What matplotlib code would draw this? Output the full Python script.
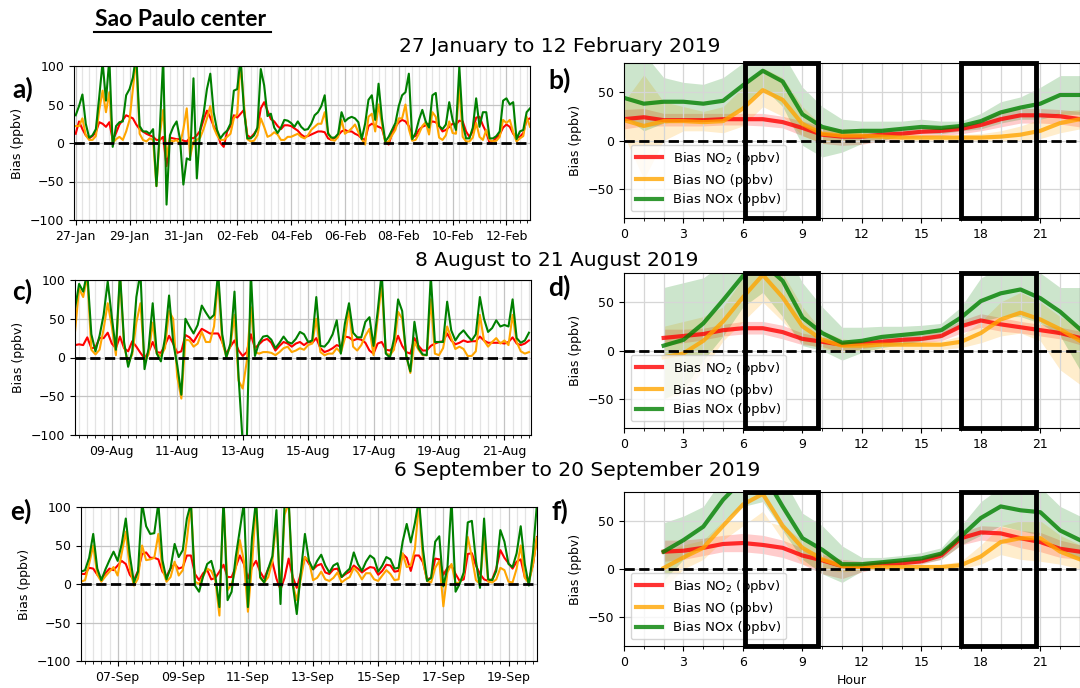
import matplotlib
matplotlib.use("Agg")
import matplotlib.pyplot as plt
import matplotlib.dates as mdates
from matplotlib.patches import Rectangle
from matplotlib.lines import Line2D
import pandas as pd

# =========================
# DATA - hourly bias time series (3-hourly samples)
# =========================
jan_start = "2019-01-27 00:00"
jan_no2 = [12, 28, 18, 10, 6, 9, 14, 27, 25, 21,
           27, 4, 13, 24, 30, 36, 34, 32, 24, 18,
           15, 12, 10, 8, 4, 4, 8, -30, 7, 6,
           5, 5, 3, 2, 7, 6, 10, 16, 30, 42,
           33, 22, 14, 0, -5, 15, 22, 36, 33, 38,
           43, 10, 7, 12, 18, 45, 53, 42, 31, 28,
           22, 18, 23, 23, 22, 19, 16, 11, 8, 9,
           11, 13, 15, 15, 14, 6, 4, 7, 10, 15,
           17, 15, 15, 12, 10, 6, 4, 22, 25, 23,
           21, 19, 3, -2, 12, 21, 27, 30, 28, 22,
           8, 9, 17, 21, 23, 25, 28, 27, 22, 15,
           17, 21, 25, 24, 29, 28, 15, 8, 15, 33,
           34, 23, 14, 0, 2, 7, 11, 20, 24, 21,
           12, 7, 8, 13, 30, 32]
jan_no = [22, 22, 32, 10, 4, 4, 9, 43, 68, 40,
          66, 0, 5, 8, 4, 15, 30, 70, 110, 12,
          4, 2, 6, 4, -56, 10, 43, -18, 4, 2,
          4, -2, 18, 45, -18, 2, 4, 7, 18, 32,
          48, 20, 10, 4, 4, 8, 12, 32, 38, 105,
          50, 5, 2, 3, 10, 32, 21, 8, 10, 14,
          11, 4, 4, 8, 8, 10, 12, 8, 6, 10,
          17, 21, 25, 25, 40, 14, 4, 3, 8, 30,
          12, 15, 19, 24, 14, 5, -2, 34, 38, 15,
          50, 25, 0, 2, 10, 17, 32, 32, 50, 18,
          3, 4, 12, 22, 27, 11, 40, 34, 7, 4,
          10, 28, 13, 12, 75, 8, 2, 2, 7, 26,
          8, 4, 17, 4, 2, 3, 8, 30, 26, 30,
          14, 2, 6, 9, 34, 21]
jan_nox = [36, 48, 63, 25, 7, 10, 18, 60, 105, 55,
           110, -5, 22, 27, 28, 62, 70, 85, 115, 22,
           15, 15, 12, 18, -56, 18, 110, -80, 10, 21,
           28, 5, -54, -20, -22, 84, -46, 18, 38, 70,
           90, 40, 17, 6, 12, 16, 25, 68, 70, 110,
           43, 6, 6, 10, 20, 96, 75, 35, 38, 20,
           13, 20, 30, 29, 26, 21, 28, 21, 17, 18,
           25, 36, 40, 48, 62, 12, 7, 7, 12, 40,
           28, 32, 34, 32, 27, 5, 25, 56, 62, 30,
           77, 32, 2, 8, 17, 26, 48, 62, 66, 90,
           5, 13, 30, 43, 28, 20, 62, 65, 22, 18,
           24, 53, 30, 17, 99, 25, 6, 6, 20, 58,
           21, 40, 40, 6, 6, 9, 15, 55, 58, 50,
           53, 5, 15, 17, 40, 45]
jan_ticks = ["27-Jan", "29-Jan", "31-Jan", "02-Feb", "04-Feb", "06-Feb", "08-Feb", "10-Feb", "12-Feb"]

aug_start = "2019-08-07 21:00"
aug_no2 = [16, 17, 16, 26, 12, 13, 25, 25, 32, 18,
           12, 27, 12, 8, 21, 14, 6, -1, 7, 20,
           7, 6, 16, 28, 18, 6, 8, 29, 26, 20,
           29, 37, 34, 31, 31, 31, 20, 5, 14, 22,
           9, 2, 7, 30, 12, 17, 22, 24, 19, 9,
           15, 20, 18, 14, 18, 20, 16, 20, 19, 25,
           12, 7, 9, 12, 16, 14, 27, 26, 22, 24,
           23, 19, 9, 5, 18, 20, 10, 9, 14, 28,
           15, 7, 5, 25, 15, 9, 9, 15, 18, 20,
           21, 31, 22, 17, 19, 22, 20, 21, 21, 27,
           22, 19, 19, 19, 19, 18, 20, 26, 18, 16,
           18, 22]
aug_no = [33, 89, 78, 105, 10, 4, 10, 37, 70, 40,
          3, 105, 15, -8, 4, 45, 70, -5, 4, 45,
          5, 2, 12, 60, 50, -25, -53, 23, 22, 14,
          18, 33, 20, 20, 40, 100, 20, 1, 15, 55,
          -30, -40, -5, 65, 7, 5, 7, 7, 6, 3,
          7, 12, 14, 7, 9, 12, 10, 16, 18, 50,
          7, 3, 5, 5, 12, 6, 25, 63, 14, 9,
          16, 28, 37, 3, 50, 95, 6, 3, 10, 59,
          50, 3, -20, 20, 10, 3, 3, 75, 5, 3,
          12, 40, 25, 11, 14, 11, 2, 2, 8, 55,
          22, 14, 20, 25, 18, 22, 16, 55, 20, 8,
          5, 7]
aug_nox = [63, 95, 85, 110, 30, 8, 28, 55, 98, 52,
           10, 110, 20, -12, 8, 78, 110, -15, 12, 70,
           5, -5, 25, 80, 20, -10, -48, 50, 40, 31,
           42, 67, 58, 50, 55, 110, 30, 0, 18, 85,
           -25, -110, -110, 110, 2, 19, 27, 28, 23, 12,
           19, 27, 20, 18, 24, 33, 30, 20, 22, 78,
           15, 14, 20, 30, 48, 5, 44, 70, 32, 26,
           26, 46, 52, 15, 59, 110, 5, 0, 24, 75,
           60, 2, -18, 46, 12, 4, 3, 105, 20, 20,
           20, 72, 35, 22, 30, 35, 28, 22, 30, 78,
           50, 33, 38, 48, 40, 42, 40, 75, 25, 19,
           22, 32]
aug_ticks = ["09-Aug", "11-Aug", "13-Aug", "15-Aug", "17-Aug", "19-Aug", "21-Aug"]

sep_start = "2019-09-05 21:00"
sep_no2 = [13, 13, 21, 20, 12, 7, 14, 20, 18, 24,
           30, 26, 12, 5, 17, 39, 41, 34, 34, 32,
           16, 10, 20, 26, 20, 22, 37, 37, 13, 5,
           14, 18, 6, 8, 16, 25, 9, 9, 22, 37,
           26, 7, 22, 30, 16, 7, 20, 29, 7, -7,
           8, 33, 9, -5, 14, 35, 26, 19, 24, 26,
           15, 13, 19, 20, 9, 13, 16, 24, 20, 15,
           19, 22, 21, 12, 17, 25, 24, 16, 17, 39,
           34, 17, 37, 37, 28, 6, 8, 33, 32, 12,
           21, 24, 13, 4, 6, 39, 40, 24, 13, 6,
           4, 6, 20, 44, 34, 27, 20, 29, 32, 9,
           5, 25, 61]
sep_no = [3, 5, 26, 50, 12, 3, 10, 16, 22, 11,
          40, 68, 20, -2, 7, 50, 31, 32, 34, 65,
          20, 3, 9, 29, 11, 18, 57, 105, 3, 0,
          10, 20, 17, 5, -41, 110, -8, 0, 20, 57,
          30, -36, 25, 105, 8, 2, 9, 30, 83, -13,
          90, 105, 0, -21, 7, 35, 30, 5, 8, 16,
          6, 4, 8, 15, 2, 6, 9, 21, 15, 6,
          14, 14, 6, 4, 11, 18, 13, 5, 6, 40,
          22, 24, 45, 105, 30, 4, 2, 21, 30, -29,
          15, 26, 1, 2, 12, 61, 35, 5, 0, 61,
          3, 2, 6, 21, 18, 3, 2, 20, 50, 8,
          1, 25, 60]
sep_nox = [16, 18, 34, 65, 20, 5, 19, 31, 42, 30,
           52, 85, 37, 2, 16, 105, 75, 65, 66, 105,
           31, 6, 21, 52, 35, 44, 85, 105, -2, -10,
           10, 26, 30, 10, -30, 110, -21, -10, 35, 70,
           105, -30, 60, 110, 9, 2, 20, 36, 96, -26,
           105, 110, 0, -39, 16, 65, 30, 19, 30, 38,
           24, 15, 24, 27, 9, 15, 20, 41, 26, 17,
           29, 37, 33, 16, 24, 35, 32, 20, 21, 55,
           78, 54, 79, 110, 45, 4, 8, 55, 62, -3,
           21, 110, -10, 0, 15, 80, 82, 30, -5, 85,
           6, 5, 17, 70, 55, 26, 22, 40, 75, 26,
           -2, 40, 105]
sep_ticks = ["07-Sep", "09-Sep", "11-Sep", "13-Sep", "15-Sep", "17-Sep", "19-Sep"]

# =========================
# DATA - mean diurnal cycle with spread
# =========================
hours_b = list(range(0, 24))
b_no2 = [22, 24, 21, 21, 21, 22, 22, 22, 19, 13, 6, 4, 4, 6, 7, 9, 10, 12, 16, 22, 26, 26, 25, 22]
b_no2_lo = [12, 15, 15, 15, 15, 16, 16, 15, 13, 5, -3, -5, -4, 0, 2, 4, 5, 7, 10, 14, 18, 18, 17, 14]
b_no2_hi = [32, 33, 28, 28, 28, 28, 28, 28, 25, 20, 14, 12, 12, 12, 12, 14, 15, 16, 22, 30, 33, 33, 32, 30]
b_no = [21, 15, 20, 20, 19, 20, 33, 52, 42, 17, 7, 5, 5, 4, 3, 3, 3, 3, 3, 4, 6, 10, 18, 22]
b_no_lo = [5, -40, 0, 10, 10, 8, 15, 35, 25, 5, -3, 0, 2, 1, 0, 0, 0, 0, 0, 0, 0, 2, 8, 12]
b_no_hi = [40, 68, 40, 35, 30, 35, 55, 75, 65, 35, 15, 10, 8, 7, 6, 6, 6, 6, 7, 10, 15, 22, 30, 32]
b_nox = [44, 38, 40, 40, 38, 41, 57, 72, 61, 27, 14, 9, 10, 10, 12, 14, 13, 15, 20, 29, 34, 38, 47, 47]
b_nox_lo = [25, 10, 18, 20, 20, 20, 35, 55, 35, -5, -17, -12, -3, 0, 5, 8, 7, 10, 12, 18, 22, 22, 27, 27]
b_nox_hi = [85, 90, 65, 60, 58, 65, 80, 85, 90, 55, 35, 22, 20, 20, 20, 22, 20, 20, 28, 40, 45, 55, 67, 67]

hours_df = list(range(2, 24))
d_no2 = [13, 15, 17, 21, 23, 23, 19, 12, 9, 6, 7, 9, 11, 12, 15, 25, 31, 27, 24, 21, 18, 13]
d_no2_lo = [5, 8, 11, 15, 17, 17, 12, 6, 4, -2, 2, 5, 7, 8, 10, 18, 24, 20, 18, 15, 12, 6]
d_no2_hi = [22, 22, 23, 27, 30, 30, 26, 18, 14, 10, 11, 13, 15, 16, 20, 31, 38, 34, 30, 27, 24, 20]
d_no = [-7, -3, 10, 30, 55, 78, 55, 25, 11, 5, 5, 6, 6, 6, 6, 9, 18, 32, 39, 32, 22, 10]
d_no_lo = [-50, -45, -20, 10, 30, 50, 30, 8, 2, -2, 0, 1, 1, 1, 1, 3, 8, 15, 18, 10, -20, -35]
d_no_hi = [25, 30, 35, 45, 75, 100, 80, 45, 20, 12, 10, 10, 10, 10, 10, 15, 30, 50, 60, 50, 35, 25]
d_nox = [5, 11, 28, 52, 77, 90, 72, 34, 18, 8, 10, 14, 16, 18, 21, 34, 51, 59, 63, 54, 40, 22]
d_nox_lo = [-50, -40, -10, 15, 45, 60, 35, 5, 0, -10, -2, 3, 6, 10, 13, 25, 30, 35, 35, 28, 15, -20]
d_nox_hi = [65, 70, 75, 90, 110, 120, 110, 70, 45, 24, 24, 25, 25, 26, 28, 45, 75, 85, 90, 80, 65, 65]

f_no2 = [18, 19, 22, 26, 27, 25, 22, 14, 9, 3, 3, 5, 6, 8, 14, 32, 38, 37, 32, 28, 21, 18]
f_no2_lo = [8, 10, 14, 18, 18, 16, 12, 5, -5, -10, -3, 2, 3, 5, 10, 25, 30, 28, 22, 18, 12, 10]
f_no2_hi = [30, 30, 32, 35, 37, 35, 30, 22, 15, 10, 8, 9, 10, 12, 18, 38, 45, 44, 40, 38, 30, 25]
f_no = [1, 12, 22, 45, 67, 78, 45, 22, 10, 3, 2, 2, 2, 2, 2, 4, 13, 28, 32, 32, 18, 10]
f_no_lo = [-20, 0, 10, 30, 45, 60, 30, 5, 0, -3, -1, -1, -1, -1, -1, 0, 5, 15, 10, 8, 5, 0]
f_no_hi = [18, 25, 30, 50, 50, 50, 45, 30, 18, 8, 6, 5, 5, 5, 5, 8, 25, 45, 50, 50, 35, 25]
f_nox = [18, 30, 44, 72, 93, 100, 65, 32, 20, 5, 5, 7, 9, 11, 16, 34, 53, 65, 61, 59, 40, 30]
f_nox_lo = [-12, 10, 25, 50, 65, 70, 40, 10, -5, -14, -2, 2, 5, 6, 10, 25, 35, 45, 40, 35, 20, 10]
f_nox_hi = [48, 55, 65, 95, 120, 130, 95, 58, 45, 24, 12, 12, 14, 17, 22, 45, 70, 85, 85, 85, 65, 55]

# rush hour windows marked with black boxes
rush_windows = [(6.1, 9.8), (17.0, 20.8)]

# =========================
# FIGURE
# =========================
W, H = 1080, 688
fig = plt.figure(figsize=(W / 100, H / 100), dpi=100)


def box(left, top, right, bottom):
    return [left / W, 1 - bottom / H, (right - left) / W, (bottom - top) / H]


def time_panel(rect, start, no2, no, nox, ticks, year, xlim):
    t = pd.date_range(start, periods=len(no2), freq="3h")
    ax = fig.add_axes(rect)
    ax.plot(t, no2, color="red", lw=1.5)
    ax.plot(t, no, color="orange", lw=1.5)
    ax.plot(t, nox, color="green", lw=1.5)
    ax.axhline(0, color="black", ls="--", lw=2, zorder=3)
    ax.set_ylim(-100, 100)
    ax.set_yticks([-100, -50, 0, 50, 100])
    lo, hi = pd.Timestamp(xlim[0]), pd.Timestamp(xlim[1])
    ax.set_xlim(lo, hi)
    major = [pd.to_datetime(s + "-" + year, format="%d-%b-%Y") for s in ticks]
    ax.set_xticks(major)
    ax.set_xticks(pd.date_range(lo.ceil("6h"), hi, freq="6h"), minor=True)
    ax.xaxis.set_major_formatter(mdates.DateFormatter("%d-%b"))
    ax.grid(which="major", color="#c4c4c4", lw=0.9)
    ax.grid(which="minor", axis="x", color="#e4e4e4", lw=0.9)
    ax.tick_params(labelsize=9)
    ax.tick_params(which="minor", length=2)
    ax.set_ylabel("Bias (ppbv)", fontsize=9)
    return ax


def hour_panel(rect, hours, series, xlabel=None):
    ax = fig.add_axes(rect)
    labels = ["Bias NO$_2$ (ppbv)", "Bias NO (ppbv)", "Bias NOx (ppbv)"]
    colors = ["red", "orange", "green"]
    for (mean, lo, hi), c in zip(series, colors):
        ax.fill_between(hours, lo, hi, color=c, alpha=0.2, lw=0)
    for (mean, lo, hi), c, lab in zip(series, colors, labels):
        ax.plot(hours, mean, color=c, alpha=0.8, lw=3, label=lab)
    ax.axhline(0, color="black", ls="--", lw=2, zorder=2.5)
    for x0, x1 in rush_windows:
        ax.add_patch(Rectangle((x0, -80), x1 - x0, 160, fill=False, ec="black",
                               lw=3.5, clip_on=False, zorder=6))
    ax.set_xlim(0, 23)
    ax.set_ylim(-80, 80)
    ax.set_xticks(range(0, 24, 3))
    ax.set_xticks(range(0, 24), minor=True)
    ax.set_yticks([-50, 0, 50])
    ax.grid(which="both", color="#d6d6d6", lw=0.9)
    ax.tick_params(labelsize=9)
    ax.tick_params(which="minor", length=2)
    ax.set_ylabel("Bias (ppbv)", fontsize=9)
    if xlabel:
        ax.set_xlabel(xlabel, fontsize=9)
    ax.legend(loc="lower left", fontsize=9.5)
    return ax


# left column: time series
time_panel(box(74, 66, 530, 220), jan_start, jan_no2, jan_no, jan_nox, jan_ticks, "2019",
           ("2019-01-26 22:30", "2019-02-12 21:00"))
time_panel(box(75, 280, 531, 435), aug_start, aug_no2, aug_no, aug_nox, aug_ticks, "2019",
           ("2019-08-07 21:00", "2019-08-21 19:30"))
time_panel(box(81, 507, 537, 661), sep_start, sep_no2, sep_no, sep_nox, sep_ticks, "2019",
           ("2019-09-05 21:00", "2019-09-19 21:00"))

# right column: diurnal cycles
hour_panel(box(624, 63, 1080, 218), hours_b,
           [(b_no2, b_no2_lo, b_no2_hi), (b_no, b_no_lo, b_no_hi), (b_nox, b_nox_lo, b_nox_hi)])
hour_panel(box(624, 273, 1080, 428), hours_df,
           [(d_no2, d_no2_lo, d_no2_hi), (d_no, d_no_lo, d_no_hi), (d_nox, d_nox_lo, d_nox_hi)])
hour_panel(box(624, 492, 1080, 646), hours_df,
           [(f_no2, f_no2_lo, f_no2_hi), (f_no, f_no_lo, f_no_hi), (f_nox, f_nox_lo, f_nox_hi)],
           xlabel="Hour")

# =========================
# TITLES AND LABELS
# =========================
fig.text(95 / W, 1 - 19 / H, "Sao Paulo center", fontsize=16.5, fontweight="bold",
         family=["Lato", "DejaVu Sans"], ha="left", va="center")
fig.add_artist(Line2D([94 / W, 271 / W], [1 - 32 / H, 1 - 32 / H], color="black", lw=1.5))

fig.text(560 / W, 1 - 47 / H, "27 January to 12 February 2019", fontsize=14.5, ha="center", va="center")
fig.text(557 / W, 1 - 260 / H, "8 August to 21 August 2019", fontsize=14.5, ha="center", va="center")
fig.text(577 / W, 1 - 471 / H, "6 September to 20 September 2019", fontsize=14.5, ha="center", va="center")

panel_labels = ["a)", "b)", "c)", "d)", "e)", "f)"]
label_pos = [(12, 89), (548, 80), (12, 291), (548, 287), (10, 511), (552, 511)]
for lab, (x, y) in zip(panel_labels, label_pos):
    fig.text(x / W, 1 - y / H, lab, fontsize=19, fontweight="bold",
             family=["Lato", "DejaVu Sans"], ha="left", va="center")

plt.savefig("out.png", dpi=100)
